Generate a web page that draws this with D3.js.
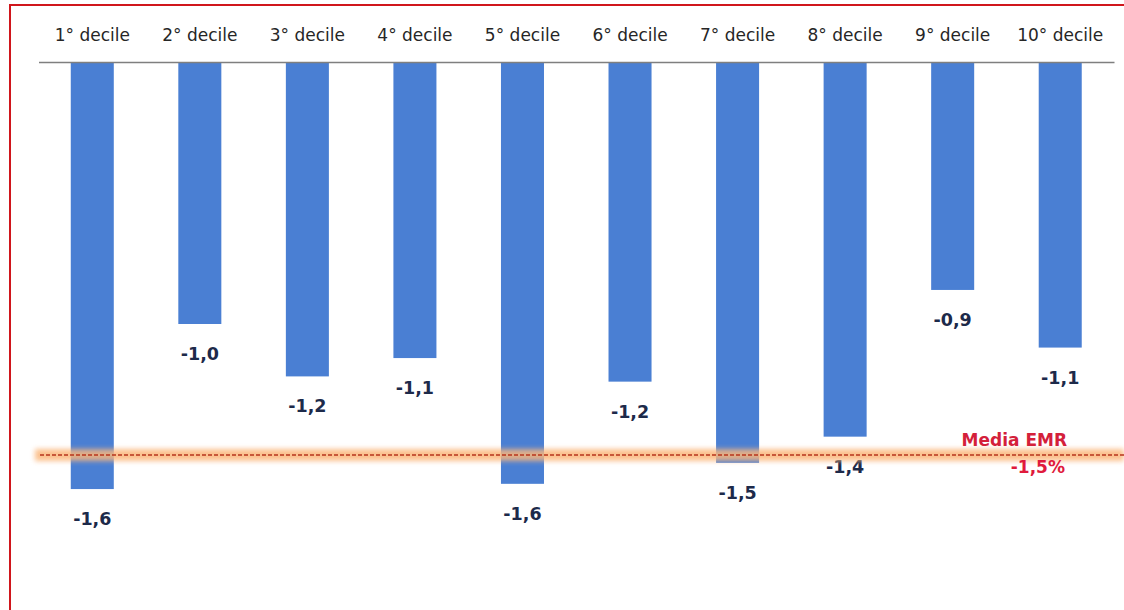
<!DOCTYPE html>
<html>
<head>
<meta charset="utf-8">
<script src="https://cdn.jsdelivr.net/npm/d3@7"></script>
<style>
  html, body { margin: 0; padding: 0; background: #fff; }
  svg { display: block; }
</style>
</head>
<body>
<svg id="chart" width="1124" height="610"></svg>
<script>
// Variazione per decile di reddito (%)
const categories = ["1° decile", "2° decile", "3° decile", "4° decile", "5° decile",
                    "6° decile", "7° decile", "8° decile", "9° decile", "10° decile"];
const values = [-1.63, -1.0, -1.2, -1.13, -1.61, -1.22, -1.53, -1.43, -0.87, -1.09];
const mediaValue = -1.5;
const mediaLabel = "Media EMR";

const fmt = v => d3.format(".1f")(v).replace(".", ",").replace("−", "-");

const svg = d3.select("#chart");
const W = 1124, H = 610;

// frame
svg.append("path")
  .attr("d", `M10,610 V5 H1124`)
  .attr("fill", "none")
  .attr("stroke", "#d0161c")
  .attr("stroke-width", 2);

const x = d3.scaleBand()
  .domain(categories)
  .range([38.5, 1114])
  .paddingInner(0.6)
  .paddingOuter(0.3);

const y = d3.scaleLinear()
  .domain([0, -1.5])
  .range([62, 455]);

// blur for the highlighted average band
const defs = svg.append("defs");
defs.append("filter").attr("id", "glow")
  .attr("x", "-5%").attr("y", "-200%").attr("width", "110%").attr("height", "500%")
  .append("feGaussianBlur").attr("stdDeviation", 2.5);

// bars
svg.append("g").selectAll("rect")
  .data(values)
  .join("rect")
  .attr("x", (d, i) => x(categories[i]))
  .attr("y", y(0))
  .attr("width", x.bandwidth())
  .attr("height", d => y(d) - y(0))
  .attr("fill", "#4a7fd3");

// category axis on top
const axis = svg.append("g")
  .attr("transform", `translate(0,${y(0)})`)
  .call(d3.axisTop(x).tickSize(0).tickPadding(21));
axis.select(".domain").attr("stroke", "#7f7f7f").attr("stroke-width", 1.3);
axis.selectAll("text")
  .attr("font-family", "DejaVu Sans, Verdana, sans-serif")
  .attr("font-size", 17)
  .attr("fill", "#262626");

// value labels
svg.append("g").selectAll("text")
  .data(values)
  .join("text")
  .attr("x", (d, i) => x(categories[i]) + x.bandwidth() / 2)
  .attr("y", d => y(d) + 36)
  .attr("text-anchor", "middle")
  .attr("font-family", "DejaVu Sans, Verdana, sans-serif")
  .attr("font-weight", "bold")
  .attr("font-size", 17.5)
  .attr("fill", "#1d2a4a")
  .text(d => fmt(d));

// average line
const my = y(mediaValue);
svg.append("rect")
  .attr("x", 35).attr("y", my - 6)
  .attr("width", W - 35).attr("height", 12)
  .attr("fill", "#fbb77c")
  .attr("opacity", 0.85)
  .attr("filter", "url(#glow)");
svg.append("line")
  .attr("x1", 40).attr("x2", W)
  .attr("y1", my).attr("y2", my)
  .attr("stroke", "#b8341c")
  .attr("stroke-width", 1.3)
  .attr("stroke-dasharray", "4,2");

svg.append("text")
  .attr("x", 1067).attr("y", my - 9)
  .attr("text-anchor", "end")
  .attr("font-family", "DejaVu Sans, Verdana, sans-serif")
  .attr("font-weight", "bold")
  .attr("font-size", 17)
  .attr("fill", "#d4203a")
  .text(mediaLabel);
svg.append("text")
  .attr("x", 1065).attr("y", my + 18)
  .attr("text-anchor", "end")
  .attr("font-family", "DejaVu Sans, Verdana, sans-serif")
  .attr("font-weight", "bold")
  .attr("font-size", 17)
  .attr("fill", "#e01a3c")
  .text(fmt(mediaValue) + "%");
</script>
</body>
</html>
